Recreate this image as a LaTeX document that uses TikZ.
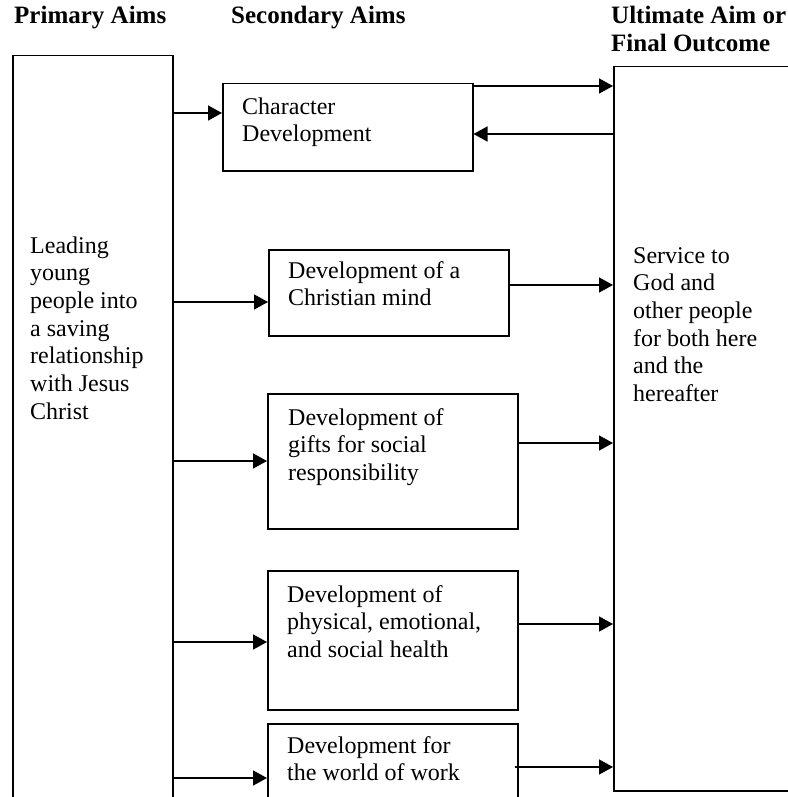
\documentclass[tikz,border=0pt]{standalone}
\usepackage{fontspec}
\setmainfont{Liberation Serif}
\usetikzlibrary{arrows.meta}
\begin{document}
\begin{tikzpicture}[x=1pt,y=-1pt,
  box/.style={draw, line width=1.5pt, inner sep=0pt, anchor=north west},
  txt/.style={inner sep=0pt, anchor=north west, align=left, font=\fontsize{24}{27.7}\selectfont},
  hdr/.style={inner sep=0pt, anchor=base west, font=\fontsize{25}{28}\selectfont\bfseries},
  arr/.style={line width=1.5pt, -{Triangle[length=14pt,width=15pt]}}]
\useasboundingbox (0,0) rectangle (787,797);
% headers
\node[hdr] (h1) at (14,24) {Primary Aims};
\node[hdr] (h2) at (231,24) {Secondary Aims};
\node[hdr] (h3) at (611,24) {Ultimate Aim or};
\node[hdr] (h4) at (611,52) {Final Outcome};
% boxes
\node[box, minimum width=160pt, minimum height=775pt] (L) at (12,55) {};
\node[box, minimum width=250pt, minimum height=87pt] (C) at (222,83) {};
\node[box, minimum width=240pt, minimum height=86pt] (M) at (268,249) {};
\node[box, minimum width=250pt, minimum height=135pt] (S) at (267,393) {};
\node[box, minimum width=250pt, minimum height=139pt] (P) at (267,570) {};
\node[box, minimum width=250pt, minimum height=100pt] (W) at (267,723) {};
\node[box, minimum width=200pt, minimum height=724pt] (R) at (613,66) {};
% texts
\node[txt] (tL) at (30,233.6) {\strut Leading\\young\\people into\\a saving\\relationship\\with Jesus\\Christ};
\node[txt] (tC) at (242,94.6) {\strut Character\\Development};
\node[txt] (tM) at (288,258.6) {\strut Development of a\\Christian mind};
\node[txt] (tS) at (288,405.6) {\strut Development of\\gifts for social\\responsibility};
\node[txt] (tP) at (287,582.6) {\strut Development of\\physical, emotional,\\and social health};
\node[txt] (tW) at (287,733.6) {\strut Development for\\the world of work};
\node[txt] (tR) at (633,243.6) {\strut Service to\\God and\\other people\\for both here\\and the\\hereafter};
% connectors
\draw[arr] (L.east |- 0,113) -- (C.west |- 0,113);
\draw[arr] (C.east |- 0,86) -- (R.west |- 0,86);
\draw[arr] (R.west |- 0,134) -- (C.east |- 0,134);
\draw[arr] (L.east |- 0,302) -- (M.west |- 0,302);
\draw[arr] (M.east |- 0,285) -- (R.west |- 0,285);
\draw[arr] (L.east |- 0,461) -- (S.west |- 0,461);
\draw[arr] (S.east |- 0,443) -- (R.west |- 0,443);
\draw[arr] (L.east |- 0,642) -- (P.west |- 0,642);
\draw[arr] (P.east |- 0,624) -- (R.west |- 0,624);
\draw[arr] (L.east |- 0,778) -- (W.west |- 0,778);
\draw[arr] ([xshift=-4pt]W.east |- 0,767) -- (R.west |- 0,767);
\end{tikzpicture}
\end{document}
